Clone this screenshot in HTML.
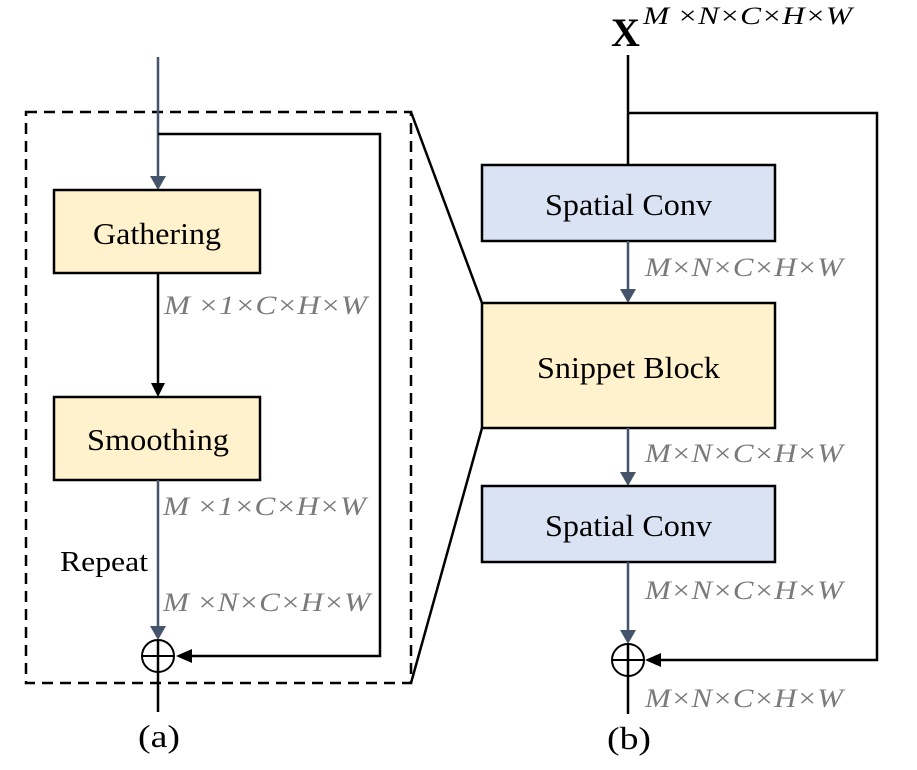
<!DOCTYPE html>
<html><head><meta charset="utf-8"><style>
body{margin:0;background:#fff}
svg text{font-family:"Liberation Serif",serif}
.d{font-style:italic;fill:#7a7a7a;font-size:26px}
.b{font-size:31px;fill:#000}
</style></head><body>
<svg width="917" height="765" viewBox="0 0 917 765">
<rect x="26" y="112" width="385" height="571" fill="none" stroke="#000" stroke-width="2.5" stroke-dasharray="11,7"/>
<line x1="411" y1="112" x2="482" y2="303" stroke="#000" stroke-width="2.5"/>
<line x1="411" y1="683" x2="482" y2="428" stroke="#000" stroke-width="2.5"/>
<!-- left -->
<line x1="158" y1="57" x2="158" y2="178" stroke="#44546a" stroke-width="2.5"/>
<polygon points="150,176 166,176 158,190" fill="#44546a"/>
<polyline points="158,134 380,134 380,656 190,656" fill="none" stroke="#000" stroke-width="2.5"/>
<polygon points="176,656 192,649 192,663" fill="#000"/>
<rect x="54" y="190" width="206" height="83" fill="#fff2cc" stroke="#000" stroke-width="2.5"/>
<text x="93" y="244" class="b" textLength="128" lengthAdjust="spacingAndGlyphs">Gathering</text>
<line x1="158" y1="273" x2="158" y2="385" stroke="#000" stroke-width="2.5"/>
<polygon points="151,383 165,383 158,397" fill="#000"/>
<rect x="54" y="397" width="206" height="83" fill="#fff2cc" stroke="#000" stroke-width="2.5"/>
<text x="87" y="450" class="b" textLength="142" lengthAdjust="spacingAndGlyphs">Smoothing</text>
<line x1="158" y1="480" x2="158" y2="628" stroke="#44546a" stroke-width="2.5"/>
<polygon points="150,626 166,626 158,640" fill="#44546a"/>
<circle cx="158" cy="656" r="16" fill="none" stroke="#000" stroke-width="2"/>
<line x1="142" y1="656" x2="174" y2="656" stroke="#000" stroke-width="2"/>
<line x1="158" y1="640" x2="158" y2="712" stroke="#000" stroke-width="2.5"/>
<text x="164" y="314" class="d" textLength="203" lengthAdjust="spacingAndGlyphs">M ×1×C×H×W</text>
<text x="163" y="515" class="d" textLength="203" lengthAdjust="spacingAndGlyphs">M ×1×C×H×W</text>
<text x="163" y="611" class="d" textLength="207" lengthAdjust="spacingAndGlyphs">M ×N×C×H×W</text>
<text x="60" y="571" font-size="29" textLength="88" lengthAdjust="spacingAndGlyphs">Repeat</text>
<text x="138" y="747" font-size="32" textLength="42" lengthAdjust="spacingAndGlyphs">(a)</text>
<!-- right -->
<text x="611" y="46" font-size="40" font-weight="bold">X</text>
<text x="643" y="24" font-size="25" font-style="italic" textLength="209" lengthAdjust="spacingAndGlyphs">M ×N×C×H×W</text>
<line x1="628" y1="55" x2="628" y2="165" stroke="#000" stroke-width="2.5"/>
<polyline points="628,113 877,113 877,660 660,660" fill="none" stroke="#000" stroke-width="2.5"/>
<polygon points="645,660 661,653 661,667" fill="#000"/>
<rect x="482" y="165" width="293" height="76" fill="#dae3f3" stroke="#000" stroke-width="2.5"/>
<text x="545" y="215" class="b" textLength="167" lengthAdjust="spacingAndGlyphs">Spatial Conv</text>
<line x1="628" y1="241" x2="628" y2="291" stroke="#44546a" stroke-width="2.5"/>
<polygon points="620,289 636,289 628,303" fill="#44546a"/>
<rect x="482" y="303" width="293" height="125" fill="#fff2cc" stroke="#000" stroke-width="2.5"/>
<text x="537" y="378" class="b" textLength="183" lengthAdjust="spacingAndGlyphs">Snippet Block</text>
<line x1="628" y1="428" x2="628" y2="474" stroke="#44546a" stroke-width="2.5"/>
<polygon points="620,472 636,472 628,486" fill="#44546a"/>
<rect x="482" y="486" width="293" height="76" fill="#dae3f3" stroke="#000" stroke-width="2.5"/>
<text x="545" y="536" class="b" textLength="167" lengthAdjust="spacingAndGlyphs">Spatial Conv</text>
<line x1="628" y1="562" x2="628" y2="632" stroke="#44546a" stroke-width="2.5"/>
<polygon points="620,630 636,630 628,644" fill="#44546a"/>
<circle cx="628" cy="660" r="16" fill="none" stroke="#000" stroke-width="2"/>
<line x1="612" y1="660" x2="644" y2="660" stroke="#000" stroke-width="2"/>
<line x1="628" y1="644" x2="628" y2="714" stroke="#000" stroke-width="2.5"/>
<text x="645" y="276" class="d" textLength="198" lengthAdjust="spacingAndGlyphs">M×N×C×H×W</text>
<text x="645" y="462" class="d" textLength="198" lengthAdjust="spacingAndGlyphs">M×N×C×H×W</text>
<text x="645" y="599" class="d" textLength="198" lengthAdjust="spacingAndGlyphs">M×N×C×H×W</text>
<text x="645" y="707" class="d" textLength="198" lengthAdjust="spacingAndGlyphs">M×N×C×H×W</text>
<text x="607" y="749" font-size="32" textLength="44" lengthAdjust="spacingAndGlyphs">(b)</text>
</svg>
</body></html>
